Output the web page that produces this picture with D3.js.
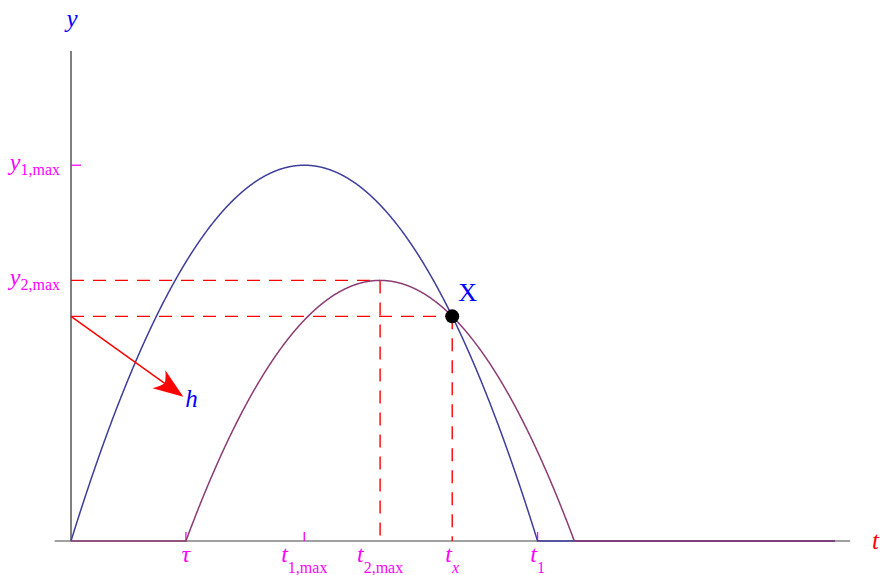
<!DOCTYPE html>
<html>
<head>
<meta charset="utf-8">
<script src="https://cdn.jsdelivr.net/npm/d3@7"></script>
<style>
  html, body { margin: 0; padding: 0; background: #fff; }
  svg { display: block; }
  text { font-family: "Liberation Serif", "Times New Roman", serif; }
</style>
</head>
<body>
<div id="chart"></div>
<script>
// Two projectiles thrown straight up: the second one leaves later (tau) and slower.
const seriesNames  = ["y1", "y2"];
const launchTimes  = [0, 0.985];     // when each body leaves the ground
const peakTimes    = [2.0, 2.65];    // t1,max and t2,max
const peakHeights  = [20.0, 13.87];  // y1,max and y2,max
const seriesColors = ["#3d3d9d", "#8c3b73"];

// Axis extents (time and height units)
const tDomain    = [0, 6.55];
const tAxisRange = [-0.14, 6.68];
const yTop       = 26.08;

// Tick labels along t and y
const tTickNames = ["τ", "t1,max", "t2,max", "tx", "t1"];
const yTickNames = ["y1,max", "y2,max"];

// Arrow pointing at the height h of the meeting point
const arrowTip = [0.963, 7.68];

const W = 880, H = 575;
const svg = d3.select("#chart").append("svg").attr("width", W).attr("height", H);

const x = d3.scaleLinear().domain(tDomain).range([71, 835]);
const y = d3.scaleLinear().domain([0, yTop]).range([541, 51]);

// height of body i at time t (zero while on the ground)
function height(i, t) {
  const t0 = launchTimes[i], tp = peakTimes[i], half = tp - t0;
  if (t < t0) return 0;
  const u = (t - tp) / half;
  return Math.max(0, peakHeights[i] * (1 - u * u));
}
const landTimes = launchTimes.map((t0, i) => 2 * peakTimes[i] - t0);

// meeting point after both have passed their peaks: bisection on the difference
function meet() {
  let a = peakTimes[1], b = landTimes[0];
  const f = t => height(0, t) - height(1, t);
  for (let k = 0; k < 60; k++) {
    const m = (a + b) / 2;
    if (f(a) * f(m) <= 0) b = m; else a = m;
  }
  const t = (a + b) / 2;
  return [t, height(0, t)];
}
const [tx, yx] = meet();

// axes
svg.append("line")
  .attr("x1", x(tAxisRange[0])).attr("x2", x(tAxisRange[1]))
  .attr("y1", y(0)).attr("y2", y(0))
  .attr("stroke", "#808080").attr("stroke-width", 1.5);
svg.append("line")
  .attr("x1", x(0)).attr("x2", x(0))
  .attr("y1", y(0)).attr("y2", y(yTop))
  .attr("stroke", "#808080").attr("stroke-width", 2);

// dashed guide lines
const dash = "13,9";
const guides = [
  [[0, peakHeights[1]], [peakTimes[1], peakHeights[1]]],
  [[0, yx], [tx, yx]],
  [[peakTimes[1], peakHeights[1]], [peakTimes[1], 0]],
  [[tx, yx], [tx, 0]]
];
svg.append("g").selectAll("line").data(guides).join("line")
  .attr("x1", d => x(d[0][0])).attr("y1", d => y(d[0][1]))
  .attr("x2", d => x(d[1][0])).attr("y2", d => y(d[1][1]))
  .attr("stroke", "#ff0000").attr("stroke-width", 1.4)
  .attr("stroke-dasharray", dash);

// small magenta ticks
const tickT = [launchTimes[1], peakTimes[0], landTimes[0]];
svg.append("g").selectAll("line").data(tickT).join("line")
  .attr("x1", d => x(d)).attr("x2", d => x(d))
  .attr("y1", y(0)).attr("y2", y(0) - 9)
  .attr("stroke", "#ff00ff").attr("stroke-width", 1.3);
svg.append("line")
  .attr("x1", x(0)).attr("x2", x(0) + 10)
  .attr("y1", y(peakHeights[0])).attr("y2", y(peakHeights[0]))
  .attr("stroke", "#ff00ff").attr("stroke-width", 1.3);

// curves
const samples = d3.range(0, 2001).map(k => tDomain[0] + (tDomain[1] - tDomain[0]) * k / 2000);
const line = d3.line().x(d => x(d[0])).y(d => y(d[1]));
seriesNames.forEach((name, i) => {
  const pts = samples.map(t => [t, height(i, t)]);
  // include the exact kink points so the corners are sharp
  pts.push([launchTimes[i], 0], [landTimes[i], 0]);
  pts.sort((a, b) => a[0] - b[0]);
  svg.append("path").datum(pts)
    .attr("class", name)
    .attr("fill", "none")
    .attr("stroke", seriesColors[i])
    .attr("stroke-width", 1.5)
    .attr("d", line);
});

// arrow to h
const ax0 = x(0), ay0 = y(yx), ax1 = x(arrowTip[0]), ay1 = y(arrowTip[1]);
const ang = Math.atan2(ay1 - ay0, ax1 - ax0);
svg.append("line")
  .attr("x1", ax0).attr("y1", ay0)
  .attr("x2", ax1 - 22 * Math.cos(ang)).attr("y2", ay1 - 22 * Math.sin(ang))
  .attr("stroke", "#ff0000").attr("stroke-width", 1.5);
svg.append("path")
  .attr("d", "M0,0 L-30,-11 Q-24,-4 -23,0 Q-24,4 -30,11 Z")
  .attr("fill", "#ff0000")
  .attr("transform", `translate(${ax1},${ay1}) rotate(${ang * 180 / Math.PI})`);

// meeting point
svg.append("circle").attr("cx", x(tx)).attr("cy", y(yx)).attr("r", 7).attr("fill", "#000");

// labels
function subLabel(sel, main, sub, mainSize, subSize, shift, subItalic) {
  sel.append("tspan").text(main).attr("font-style", "italic").attr("font-size", mainSize);
  if (sub) {
    sel.append("tspan").text(sub).attr("font-size", subSize).attr("dy", shift)
      .attr("font-style", subItalic ? "italic" : "normal");
  }
}
const tLabelAt = [launchTimes[1], peakTimes[0], peakTimes[1], tx, landTimes[0]];
tTickNames.forEach((name, i) => {
  const main = name[0], sub = name.slice(1);
  const t = svg.append("text")
    .attr("x", x(tLabelAt[i])).attr("y", 562)
    .attr("text-anchor", "middle").attr("fill", "#ff00ff");
  subLabel(t, main, sub, 24, 16, 11, sub === "x");
});
const yLabelAt = [peakHeights[0], peakHeights[1]];
yTickNames.forEach((name, i) => {
  const t = svg.append("text")
    .attr("x", x(0) - 11).attr("y", y(yLabelAt[i]) + 5)
    .attr("text-anchor", "end").attr("fill", "#ff00ff");
  subLabel(t, name[0], name.slice(1), 24, 16, 5, false);
});

// axis names and annotations
svg.append("text").attr("x", 72).attr("y", 27).attr("text-anchor", "middle")
  .attr("fill", "#0000ff").attr("font-style", "italic").attr("font-size", 25).text("y");
svg.append("text").attr("x", 872).attr("y", 549)
  .attr("fill", "#ff0000").attr("font-style", "italic").attr("font-size", 25).text("t");
svg.append("text").attr("x", x(tx) + 6).attr("y", y(yx) - 15)
  .attr("fill", "#0000ff").attr("font-size", 26).text("X");
svg.append("text").attr("x", ax1 + 2).attr("y", ay1 + 10)
  .attr("fill", "#0000ff").attr("font-style", "italic").attr("font-size", 25).text("h");
</script>
</body>
</html>
